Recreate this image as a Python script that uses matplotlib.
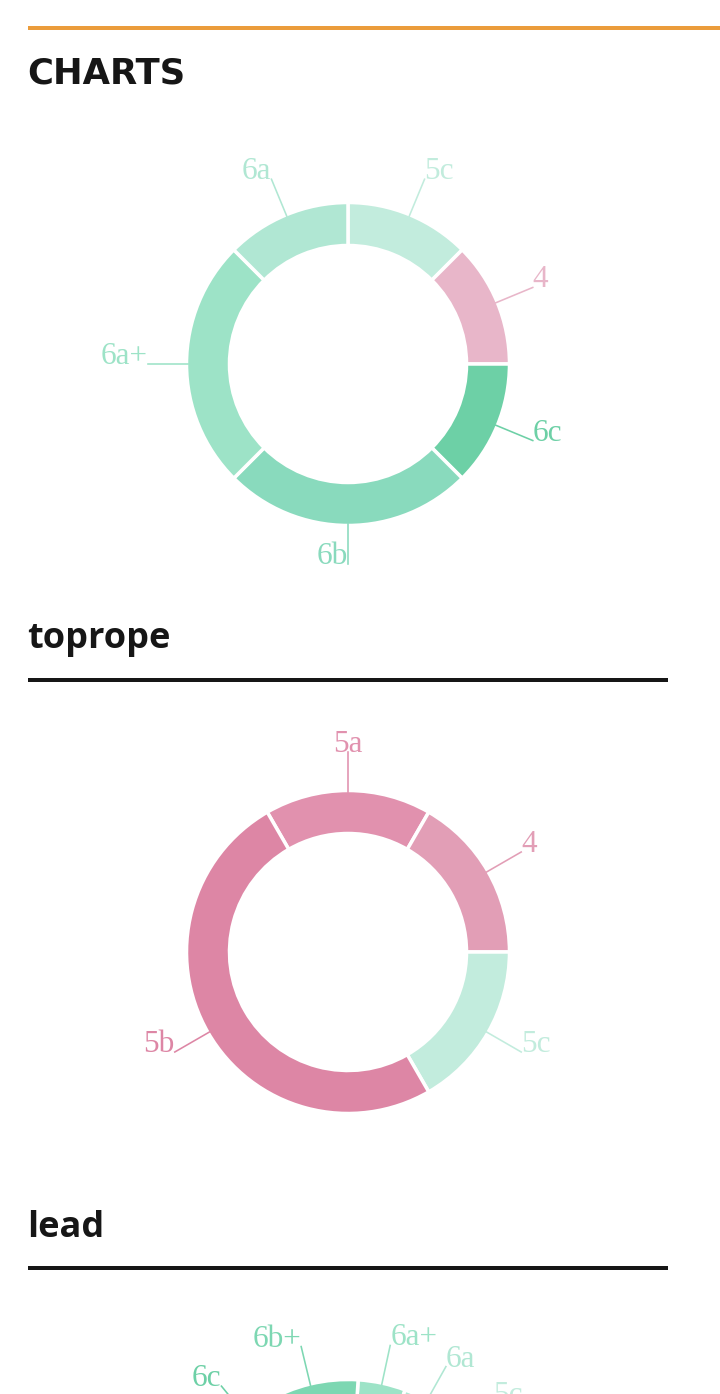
import matplotlib
matplotlib.use("Agg")
import matplotlib.pyplot as plt
import numpy as np

W, H = 720, 1394

# all climbs
all_grades = ["5c", "4", "6c", "6b", "6a+", "6a"]
all_counts = [1, 1, 1, 2, 2, 1]
all_colors = ["#c2ecdd", "#e8b6c9", "#6dd0a6", "#89dabd", "#9de3c7", "#b0e7d3"]

# toprope
top_grades = ["5a", "4", "5c", "5b"]
top_counts = [1, 1, 1, 3]
top_colors = ["#e191ae", "#e29eb6", "#c2ecdd", "#dd86a5"]

# lead (lower part is cut off by the page)
lead_grades = ["6a+", "6a", "5c", "4", "5a", "5b", "6b", "6c", "6b+"]
lead_counts = [1, 1, 1, 2, 3, 4, 6, 1, 2]
lead_colors = ["#9de3c7", "#b0e7d3", "#c2ecdd", "#e8b6c9", "#e191ae", "#dd86a5",
               "#89dabd", "#6dd0a6", "#7dd7b2"]

fig = plt.figure(figsize=(7.2, 13.94), dpi=100)
ax = fig.add_axes([0, 0, 1, 1])

px = 72 / 100  # points per pixel


def donut(cx, cy, counts, labels, colors, start):
    cy = H - cy
    wedges, _ = ax.pie(counts, colors=colors, startangle=90 - start,
                       counterclock=False, center=(cx, cy), radius=161.5,
                       frame=True,
                       wedgeprops=dict(width=43, edgecolor="white", linewidth=3.5 * px))
    for w, lab, col in zip(wedges, labels, colors):
        a = np.deg2rad((w.theta1 + w.theta2) / 2)
        c, s = np.cos(a), np.sin(a)
        x0, y0 = cx + 160 * c, cy + 160 * s
        x1, y1 = cx + 200 * c, cy + 200 * s
        ax.plot([x0, x1], [y0, y1], color=col, lw=1.6 * px)
        if c > 1e-6:
            ha = "left"
        elif c < -1e-6:
            ha = "right"
        else:
            ha = "center" if s > 0 else "right"
        ax.text(x1, y1, lab, color=col, ha=ha, va="baseline",
                family="Liberation Serif", fontsize=22.5)


# header
ax.plot([28, 720], [H - 28, H - 28], color="#eb9c3b", lw=4 * px, solid_capstyle="butt")
ax.text(27, H - 84, "CHARTS", family="DejaVu Sans", weight="heavy", fontsize=25.5,
        color="#161616", va="baseline")

donut(348, 364, all_counts, all_grades, all_colors, 0)

ax.text(27, H - 648, "toprope", family="Open Sans", weight="bold", fontsize=26,
        color="#161616", va="baseline")
ax.plot([28, 668], [H - 680, H - 680], color="#161616", lw=4 * px, solid_capstyle="butt")

donut(348, 952, top_counts, top_grades, top_colors, -30)

ax.text(27, H - 1237, "lead", family="Open Sans", weight="bold", fontsize=26,
        color="#161616", va="baseline")
ax.plot([28, 668], [H - 1268, H - 1268], color="#161616", lw=4 * px, solid_capstyle="butt")

donut(348, 1541, lead_counts, lead_grades, lead_colors, 3.6)

ax.set_xlim(0, W)
ax.set_ylim(0, H)
ax.set_aspect("equal")
ax.axis("off")

fig.savefig("out.png", dpi=100)
